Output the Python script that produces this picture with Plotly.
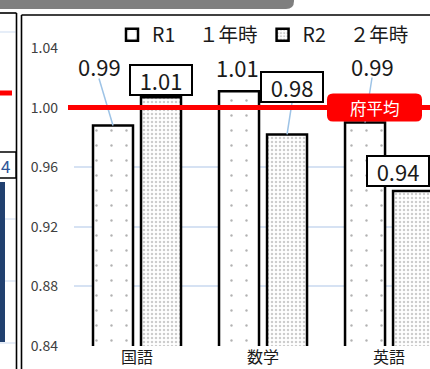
import plotly.graph_objects as go

# ---- data -------------------------------------------------------------
subjects = ["国語", "数学", "英語"]
r1_values = [0.988, 1.011, 0.990]
r2_values = [1.007, 0.982, 0.944]
series_names = ["R1　 １年時", "R2　 ２年時"]
pref_avg = 1.00
pref_label = "府平均"
y_ticks = [0.84, 0.88, 0.92, 0.96, 1.00, 1.04]

# ---- layout constants -------------------------------------------------
FIG_W, FIG_H = 430, 369
M_L, M_T, M_B, M_R = 74, 48, 23, 0
PLOT_W = FIG_W - M_L - M_R
PLOT_H = FIG_H - M_T - M_B
X_RANGE = [-0.5, 2.325]
Y_RANGE = [0.84, 1.04]
BARGAP, BARGROUPGAP = 0.238, 0.167
BAR_OFF = (1 - BARGAP) / 4          # centre offset of each bar in its group
SX = PLOT_W / (X_RANGE[1] - X_RANGE[0])   # px per category unit
SY = PLOT_H / (Y_RANGE[1] - Y_RANGE[0])   # px per value unit

FONT = "Noto Sans CJK JP, Noto Sans, sans-serif"
LEADER = "#9dc3e6"
GRID = "#d6e2f3"


def px(xp):
    """page pixel x -> paper x"""
    return (xp - M_L) / PLOT_W


def py(yp):
    """page pixel y -> paper y"""
    return (M_T + PLOT_H - yp) / PLOT_H


def rounded_path(x0, y0, x1, y1, r, corners="all"):
    """rounded rectangle (pixel coords) as a paper-space SVG path"""
    def p(a, b):
        return f"{px(a):.5f},{py(b):.5f}"
    r_tl = r_tr = r_br = r_bl = r
    if corners == "br":
        r_tl = r_tr = r_bl = 0
    d = f"M{p(x0 + r_tl, y0)} L{p(x1 - r_tr, y0)} "
    d += f"Q{p(x1, y0)} {p(x1, y0 + r_tr)} " if r_tr else ""
    d += f"L{p(x1, y1 - r_br)} "
    d += f"Q{p(x1, y1)} {p(x1 - r_br, y1)} " if r_br else ""
    d += f"L{p(x0 + r_bl, y1)} "
    d += f"Q{p(x0, y1)} {p(x0, y1 - r_bl)} " if r_bl else ""
    d += f"L{p(x0, y0 + r_tl)} "
    d += f"Q{p(x0, y0)} {p(x0 + r_tl, y0)} " if r_tl else ""
    return d + "Z"


xs = list(range(len(subjects)))

fig = go.Figure()
fig.add_trace(go.Bar(
    x=xs, y=r1_values, name=series_names[0],
    marker=dict(color="white", line=dict(color="black", width=2.5),
                pattern=dict(shape=".", size=15, solidity=0.02,
                             fgcolor="#666666")),
))
fig.add_trace(go.Bar(
    x=xs, y=r2_values, name=series_names[1],
    marker=dict(color="white", line=dict(color="black", width=2.5),
                pattern=dict(shape=".", size=4, solidity=0.3,
                             fgcolor="#9a9a9a")),
))

# ---- data labels: (dx, dy) pixel offset of the label centre from the
#      bar top, boxed label, leader line
label_style = {
    0: [(-14, -59, False, True), (-2, -24, False, False), (7, -57, False, True)],
    1: [(0, -17, True, False), (5, -47, True, True), (-15, -20, True, False)],
}
shapes = []
annotations = []
for s, values in enumerate([r1_values, r2_values]):
    sign = -1 if s == 0 else 1
    for i, v in enumerate(values):
        dx, dy, boxed, leader = label_style[s][i]
        xc = i + sign * BAR_OFF
        half_h = 15 if boxed else 12
        if leader:
            shapes.append(dict(
                type="line", xref="x", yref="y", layer="above",
                x0=xc + dx / SX, y0=v - (dy + half_h) / SY, x1=xc, y1=v,
                line=dict(color=LEADER, width=1.5)))
        ann = dict(x=xc, y=v, xref="x", yref="y", xshift=dx, yshift=-dy,
                   text=f"{v:.2f}", showarrow=False,
                   xanchor="center", yanchor="middle",
                   font=dict(family=FONT, size=22, color="#1a1a1a"))
        if boxed:
            ann.update(bordercolor="black", borderwidth=2, bgcolor="white",
                       borderpad=3, width=54, height=22)
        annotations.append(ann)

# ---- prefectural average line and its label ---------------------------
avg_paper = (pref_avg - Y_RANGE[0]) / (Y_RANGE[1] - Y_RANGE[0])
avg_px = M_T + PLOT_H * (1 - avg_paper)
shapes.append(dict(type="line", xref="paper", yref="paper", layer="above",
                   x0=px(68), x1=px(FIG_W), y0=avg_paper, y1=avg_paper,
                   line=dict(color="#ff0000", width=5)))
shapes.append(dict(type="path", xref="paper", yref="paper", layer="above",
                   path=rounded_path(327, avg_px - 14, 422, avg_px + 14, 6),
                   fillcolor="#ff0000", line=dict(width=0)))
annotations.append(dict(x=px(374.5), y=avg_paper, xref="paper", yref="paper",
                        text=pref_label, showarrow=False,
                        xanchor="center", yanchor="middle",
                        font=dict(family=FONT, size=16.5, color="white")))

# ---- surrounding frame pieces -----------------------------------------
# grey header strip
shapes.append(dict(type="path", xref="paper", yref="paper", layer="above",
                   path=rounded_path(-2, -2, 294, 9, 8, corners="br"),
                   fillcolor="#7f7f7f", line=dict(width=0)))
frame = [
    (0, 13, 16.5, 13), (16.5, 13, 16.5, FIG_H),      # neighbouring panel
    (21.5, 15, FIG_W, 15), (21.5, 15, 21.5, FIG_H),  # this panel
]
for x0, y0, x1, y1 in frame:
    shapes.append(dict(type="line", xref="paper", yref="paper", layer="above",
                       x0=px(x0), y0=py(y0), x1=px(x1), y1=py(y1),
                       line=dict(color="black", width=1.6)))
# neighbouring panel contents
for gy in [32, 219, 281, 343]:
    shapes.append(dict(type="line", xref="paper", yref="paper", layer="below",
                       x0=px(0), x1=px(15.5), y0=py(gy), y1=py(gy),
                       line=dict(color=GRID, width=1.2)))
shapes.append(dict(type="line", xref="paper", yref="paper", layer="above",
                   x0=px(0), x1=px(12), y0=py(93), y1=py(93),
                   line=dict(color="#ff0000", width=5)))
shapes.append(dict(type="rect", xref="paper", yref="paper", layer="above",
                   x0=px(-2), x1=px(16), y0=py(152), y1=py(178),
                   fillcolor="white", line=dict(color="black", width=1.5)))
shapes.append(dict(type="rect", xref="paper", yref="paper", layer="above",
                   x0=px(-1), x1=px(5), y0=py(182), y1=py(342),
                   fillcolor="#21406f", line=dict(width=0)))
annotations.append(dict(x=px(-1), y=py(165), xref="paper", yref="paper",
                        text="4", showarrow=False, xanchor="left",
                        yanchor="middle",
                        font=dict(family=FONT, size=17, color="#2f5597")))

fig.update_layout(
    width=FIG_W, height=FIG_H,
    margin=dict(l=M_L, r=M_R, t=M_T, b=M_B, pad=0, autoexpand=False),
    paper_bgcolor="white", plot_bgcolor="white",
    barmode="group", bargap=BARGAP, bargroupgap=BARGROUPGAP,
    font=dict(family=FONT, color="#262626"),
    showlegend=True,
    legend=dict(orientation="h", x=px(112), y=py(35), xanchor="left",
                yanchor="middle", bgcolor="rgba(0,0,0,0)",
                font=dict(family=FONT, size=19.5, color="#1a1a1a"),
                itemwidth=30, traceorder="normal"),
    xaxis=dict(range=X_RANGE, tickvals=xs, ticktext=subjects,
               showgrid=False, zeroline=False, showline=False, ticks="",
               ticklabelstandoff=0, automargin=False,
               tickfont=dict(family=FONT, size=16, color="#1a1a1a")),
    yaxis=dict(range=Y_RANGE, tickvals=y_ticks, tickformat=".2f",
               showgrid=True, gridcolor=GRID, gridwidth=1.5,
               zeroline=False, showline=False, ticks="",
               ticklabelstandoff=15, automargin=False,
               tickfont=dict(family=FONT, size=14, color="#404040")),
    shapes=shapes, annotations=annotations,
)

fig.write_html("out.html")
